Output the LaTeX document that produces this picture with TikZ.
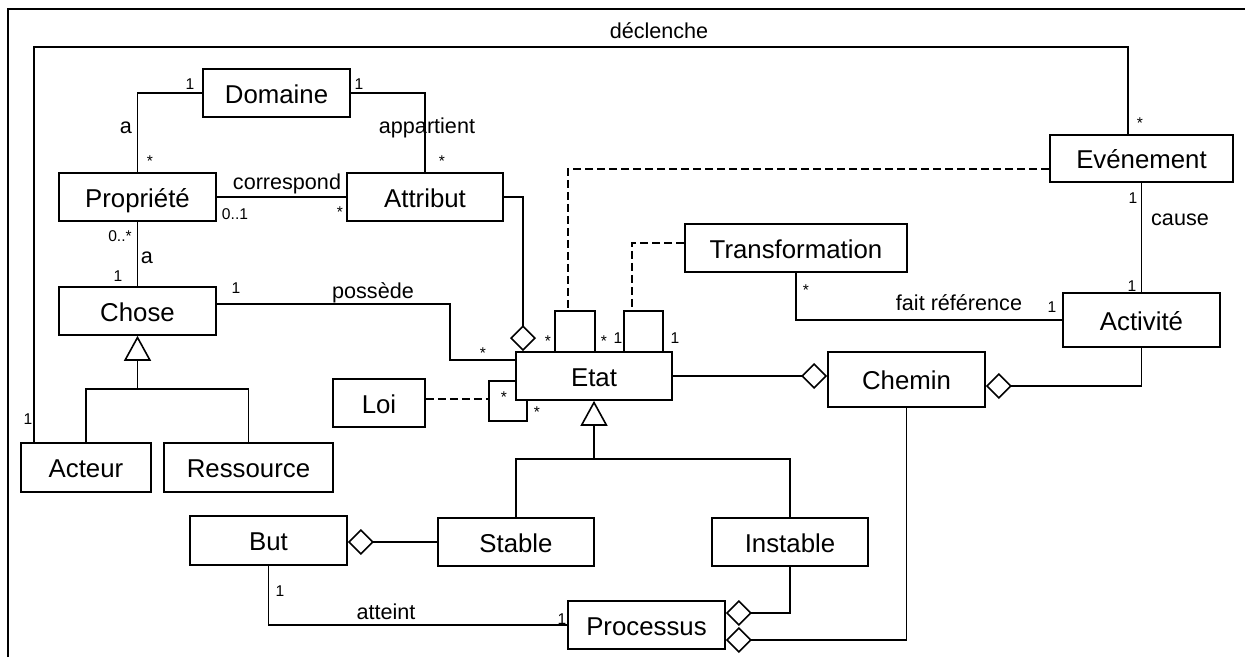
\documentclass[tikz,border=0pt]{standalone}
\usepackage{fontspec}
\setmainfont{Liberation Sans}
\usetikzlibrary{arrows.meta}
\tikzset{
  classe/.style={draw, inner sep=0pt, text height=20pt, text depth=0pt, font=\fontsize{25.8}{30}\selectfont},
  mult/.style={anchor=base, inner sep=0pt, font=\fontsize{15.6}{18}\selectfont},
  role/.style={anchor=base, inner sep=0pt, font=\fontsize{21.6}{25}\selectfont},
  agreg/.style={-{Diamond[open, length=26pt, width=26pt]}},
  herit/.style={-{Triangle[open, length=25pt, width=27pt]}},
  pointille/.style={dash pattern=on 8pt off 4pt}
}
\begin{document}
\begin{tikzpicture}[x=1pt, y=-1pt, line width=1.6pt]
\useasboundingbox (0,0) rectangle (1245,657);
\draw (8,657) -- (8,9) -- (1245,9);

\node[classe, minimum width=147pt, minimum height=48pt] (domaine) at (276.5,93) {Domaine};
\node[classe, minimum width=157pt, minimum height=48pt] (propriete) at (137.5,197) {Propriété};
\node[classe, minimum width=156pt, minimum height=48pt] (attribut) at (425,197) {Attribut};
\node[classe, minimum width=157pt, minimum height=48pt] (chose) at (137.5,311) {Chose};
\node[classe, minimum width=130pt, minimum height=49pt] (acteur) at (86,467.5) {Acteur};
\node[classe, minimum width=169pt, minimum height=49pt] (ressource) at (248.5,467.5) {Ressource};
\node[classe, minimum width=92pt, minimum height=48pt] (loi) at (379,403) {Loi};
\node[classe, minimum width=156pt, minimum height=48pt] (etat) at (594,376) {Etat};
\node[classe, minimum width=222pt, minimum height=48pt] (transformation) at (796,248) {Transformation};
\node[classe, minimum width=183pt, minimum height=47pt] (evenement) at (1141.5,158.5) {Evénement};
\node[classe, minimum width=157pt, minimum height=54pt] (activite) at (1141.5,320) {Activité};
\node[classe, minimum width=157pt, minimum height=55pt] (chemin) at (906.5,379.5) {Chemin};
\node[classe, minimum width=157pt, minimum height=49pt] (but) at (268.5,540.5) {But};
\node[classe, minimum width=156pt, minimum height=48pt] (stable) at (516,542) {Stable};
\node[classe, minimum width=156pt, minimum height=48pt] (instable) at (790,542) {Instable};
\node[classe, minimum width=157pt, minimum height=48pt] (processus) at (646.5,625) {Processus};

\draw (domaine.west) -| (propriete.north);
\draw (domaine.east) -| (attribut.north);
\draw (propriete.east) -- (attribut.west);
\draw (propriete.south) -- (chose.north);
\draw ([yshift=7pt]chose.east) -| ([xshift=-65pt,yshift=16pt]etat.west) -- ([yshift=16pt]etat.west);
\draw[agreg] (attribut.east) -| ([xshift=-71pt]etat.north);
\draw[agreg] (etat.east) -- (etat.east -| chemin.west);
\draw[agreg] (activite.south) |- ([yshift=-6.5pt]chemin.east);
\draw (transformation.south) |- (activite.west);
\draw (evenement.south) -- (activite.north);
\draw ([xshift=-52pt]acteur.north) |- ([xshift=-13.5pt,yshift=87pt]evenement.north) -- ([xshift=-13.5pt]evenement.north);

\coordinate (gchose) at (137.5,389);
\draw (acteur.north) |- (gchose) -| (ressource.north);
\draw[herit] (gchose) -- (chose.south);
\coordinate (getat) at (594,459);
\draw (stable.north) |- (getat) -| (instable.north);
\draw[herit] (getat) -- (etat.south);

\draw[agreg] (stable.west) -- (stable.west -| but.east);
\draw (but.south) |- (processus.west);
\draw[agreg] (instable.south) |- ([yshift=12pt]processus.east);
\draw[agreg] (chemin.south) |- ([yshift=-15pt]processus.east);

\coordinate (boucle1) at (568,311);
\coordinate (boucle2) at (632,311);
\coordinate (boucle3) at (489,421);
\draw ([xshift=-39pt]etat.north) |- (boucle1) -| ([xshift=1pt]etat.north);
\draw ([xshift=30pt]etat.north) |- (boucle2) -| ([xshift=69pt]etat.north);
\draw ([yshift=-5pt]etat.west) -| (boucle3) -| ([xshift=-67pt]etat.south);
\draw[pointille] ([yshift=-10.5pt]evenement.west) -| (boucle1);
\draw[pointille] ([yshift=5pt]transformation.west) -| (boucle2);
\draw[pointille] ([yshift=4pt]loi.east) -- ([yshift=4pt]loi.east -| boucle3);

\node[role] (declenche) at (659,38) {déclenche};
\node[mult] (m1) at (190,89) {1};
\node[role] (a1) at (126,133) {a};
\node[mult] (m2) at (150,166) {*};
\node[mult] (m3) at (359,89) {1};
\node[role] (appartient) at (427,133) {appartient};
\node[mult] (m4) at (442,166) {*};
\node[role] (correspond) at (287,189) {correspond};
\node[mult] (m5) at (235,219) {0..1};
\node[mult] (m6) at (340,217) {*};
\node[mult] (m7) at (120,241) {0..*};
\node[role] (a2) at (147,263) {a};
\node[mult] (m8) at (118,281) {1};
\node[mult] (m9) at (236,293) {1};
\node[role] (possede) at (373,298) {possède};
\node[mult] (m10) at (483,358) {*};
\node[mult] (m11) at (548,346) {*};
\node[mult] (m12) at (604,346) {*};
\node[mult] (m13) at (618,343) {1};
\node[mult] (m14) at (675,343) {1};
\node[mult] (m15) at (504,402) {*};
\node[mult] (m16) at (537,417) {*};
\node[mult] (m17) at (1140,128) {*};
\node[mult] (m18) at (1133,203) {1};
\node[role] (cause) at (1180,225) {cause};
\node[mult] (m19) at (1132,291) {1};
\node[mult] (m20) at (806,295) {*};
\node[role] (reference) at (959,310) {fait référence};
\node[mult] (m21) at (1052,312) {1};
\node[mult] (m22) at (28,424) {1};
\node[mult] (m23) at (280,596) {1};
\node[role] (atteint) at (386,619) {atteint};
\node[mult] (m24) at (562,624) {1};
\end{tikzpicture}
\end{document}
